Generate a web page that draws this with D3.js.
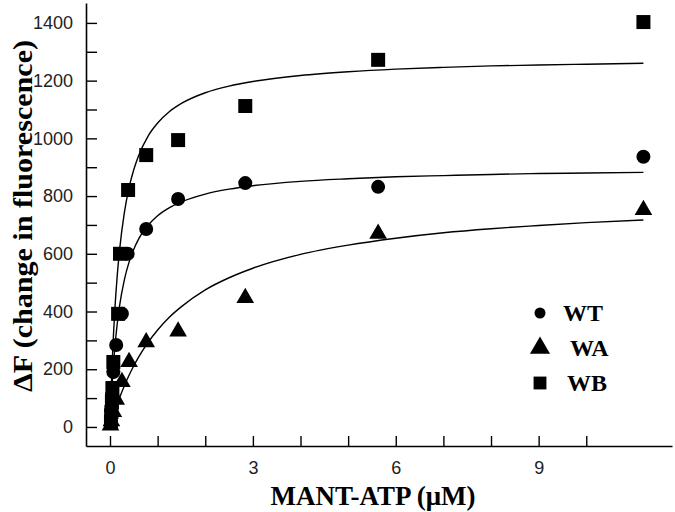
<!DOCTYPE html>
<html><head><meta charset="utf-8">
<script src="https://cdn.jsdelivr.net/npm/d3@7"></script>
<style>body{margin:0;background:#fff}svg{display:block}</style>
</head><body>
<svg id="c" width="675" height="512"></svg>
<script>
// ---- data ----
const seriesNames = ["WT", "WA", "WB"];
const wtPoints = [[11.2,936],[5.63,832],[2.84,845],[1.43,790],[0.76,686],[0.37,600],[0.25,392],[0.13,284],[0.07,190],[0.04,111],[0.02,55]];
const waPoints = [[11.2,752],[5.63,670],[2.84,447],[1.43,331],[0.76,294],[0.40,225],[0.25,156],[0.13,95],[0.07,52],[0.03,20],[0.01,5]];
const wbPoints = [[11.2,1403],[5.63,1272],[2.84,1112],[1.43,994],[0.76,942],[0.38,821],[0.21,600],[0.17,392],[0.07,225],[0.05,135],[0.04,85],[0.03,52],[0.02,20]];
// fitted curves
const fitX  = [0,0.02,0.05,0.1,0.15,0.2,0.3,0.4,0.5,0.6,0.8,1.0,1.25,1.5,2,2.5,3,4,5,6,7,8,9,10,11.2];
const wtFit = [0,72,161,273,355,419,509,571,616,651,699,732,760,780,807,824,836,851,860,867,871,875,878,880,882];
const waFit = [0,11,28,54,78,101,142,179,212,242,293,336,381,417,475,517,550,598,630,654,673,687,698,708,717];
const wbFit = [0,107,238,402,521,612,741,829,892,940,1008,1053,1093,1121,1158,1181,1197,1218,1231,1240,1246,1251,1254,1257,1260];
const xTickLabels = [0,3,6,9];
const yTickLabels = [0,200,400,600,800,1000,1200,1400];

const svg = d3.select("#c");
const x = d3.scaleLinear().domain([-0.504, 11.8]).range([86, 672]);
const y = d3.scaleLinear().domain([-66, 1469]).range([446, 3]);

// axes
const xAxis = d3.axisBottom(x).tickValues(d3.range(0, 11, 1)).tickSize(-10).tickSizeOuter(0)
  .tickFormat(d => xTickLabels.includes(d) ? d : "");
const gx = svg.append("g").attr("transform", "translate(0,446)").call(xAxis);
const yAxis = d3.axisLeft(y).tickValues(d3.range(0, 1401, 100)).tickSize(-11).tickSizeOuter(0)
  .tickFormat(d => yTickLabels.includes(d) ? d : "");
const gy = svg.append("g").attr("transform", "translate(86,0)").call(yAxis);
[gx, gy].forEach(g => {
  g.select(".domain").attr("stroke", "#000").attr("stroke-width", 1.6);
  g.selectAll(".tick line").attr("stroke", "#000").attr("stroke-width", 1.4);
  g.selectAll(".tick text").attr("font-family", "Arial, 'Liberation Sans', sans-serif")
    .attr("font-size", 18).attr("fill", "#222");
});
gx.selectAll(".tick text").attr("y", 15);
gy.selectAll(".tick text").attr("x", -13);

// titles
svg.append("text").attr("x", 373).attr("y", 505).attr("text-anchor", "middle")
  .attr("font-family", "'Liberation Serif', 'Times New Roman', serif").attr("font-weight", "bold")
  .attr("font-size", 27).text("MANT-ATP (μM)");
svg.append("text").attr("transform", "translate(32,216) rotate(-90)").attr("text-anchor", "middle")
  .attr("font-family", "'Liberation Serif', 'Times New Roman', serif").attr("font-weight", "bold")
  .attr("font-size", 28).attr("textLength", 352).attr("lengthAdjust", "spacingAndGlyphs")
  .text("ΔF (change in fluorescence)");

// fit curves
const line = d3.line().x(d => x(d[0])).y(d => y(d[1])).curve(d3.curveMonotoneX);
[wtFit, waFit, wbFit].forEach(f => {
  svg.append("path").datum(fitX.map((v, i) => [v, f[i]]))
    .attr("d", line).attr("fill", "none").attr("stroke", "#000").attr("stroke-width", 1.4);
});

// points
const symbols = [d3.symbolCircle, d3.symbolTriangle, d3.symbolSquare];
const sizes = [154, 135, 196];
[wtPoints, waPoints, wbPoints].forEach((pts, i) => {
  svg.append("g").selectAll("path").data(pts).join("path")
    .attr("transform", d => `translate(${x(d[0])},${y(d[1])})`)
    .attr("d", d3.symbol().type(symbols[i]).size(sizes[i])).attr("fill", "#000");
});

// legend
const legY = [313, 348, 383];
const legTextX = [563, 570, 567];
const legSizes = [95, 175, 165];
seriesNames.forEach((n, i) => {
  svg.append("path").attr("transform", `translate(540,${legY[i]})`)
    .attr("d", d3.symbol().type(symbols[i]).size(legSizes[i])).attr("fill", "#000");
  svg.append("text").attr("x", legTextX[i]).attr("y", legY[i] + 8)
    .attr("font-family", "'Liberation Serif', 'Times New Roman', serif").attr("font-weight", "bold")
    .attr("font-size", 24).text(n);
});
</script>
</body></html>
